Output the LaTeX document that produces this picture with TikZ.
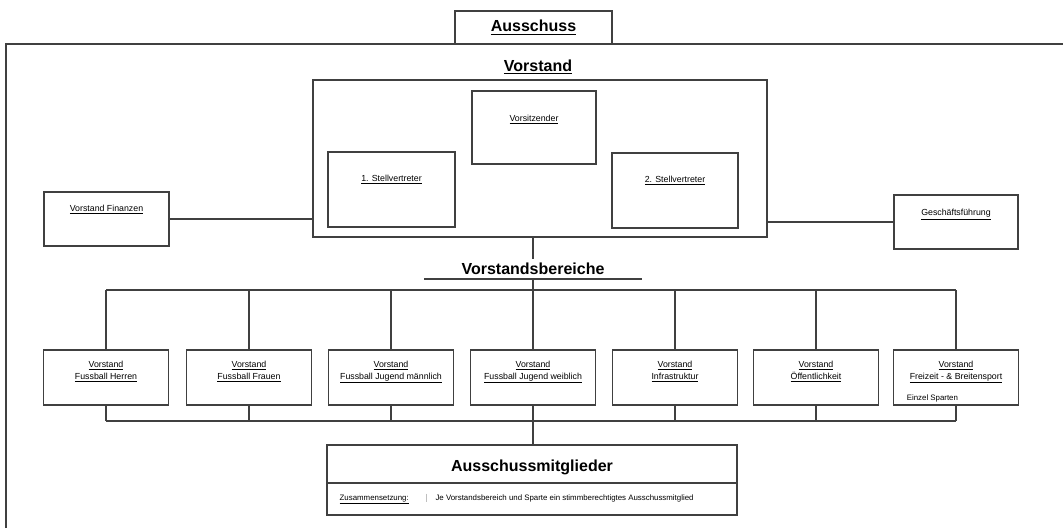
\documentclass[tikz,border=0pt]{standalone}
\usepackage{fontspec}
\setmainfont{Liberation Sans}
\usetikzlibrary{positioning}
\colorlet{ln}{black!75}

\begin{document}
\begin{tikzpicture}[x=0.75pt,y=-0.75pt,line width=1.1pt,
  box/.style={draw=ln,inner sep=0pt},
  rowbox/.style={box,minimum width=93.75pt,minimum height=41.25pt},
  lbl/.style={inner sep=0pt,align=center,font=\fontsize{6.6}{9}\selectfont},
  note/.style={inner sep=0pt,font=\fontsize{5.9}{7}\selectfont},
  head/.style={inner sep=0pt,font=\fontsize{12}{14}\selectfont\bfseries}]
\useasboundingbox (0,0) rectangle (1063,528);
\draw[ln] (6,528) -- (6,44) -- (1063,44);

\node[box,minimum width=117.75pt,minimum height=24.75pt,font=\fontsize{12}{14}\selectfont\bfseries] (aus) at (533.5,27.5) {\underline{Ausschuss}};
\node[head] (vst) at (538,67) {\underline{Vorstand}};
\node[box,minimum width=340.5pt,minimum height=117.75pt] (vs) at (540,158.5) {};

\node[box,minimum width=93pt,minimum height=54.75pt] (vors) at (534,127.5) {};
\node[lbl] (vorst) [below=18pt of vors.north] {\underline{Vorsitzender}};
\node[box,minimum width=95.25pt,minimum height=56.25pt] (st1) at (391.5,189.5) {};
\node[lbl] (st1t) [below=17pt of st1.north] {\underline{1. Stellvertreter}};
\node[box,minimum width=94.5pt,minimum height=56.25pt] (st2) at (675,190.5) {};
\node[lbl] (st2t) [below=17pt of st2.north] {\underline{2. Stellvertreter}};

\node[box,minimum width=93.75pt,minimum height=40.5pt] (fin) at (106.5,219) {};
\node[lbl] (fint) [below=10pt of fin.north] {\underline{Vorstand Finanzen}};
\node[box,minimum width=93pt,minimum height=40.5pt] (gf) at (956,222) {};
\node[lbl] (gft) [below=10.5pt of gf.north] {\underline{Geschäftsführung}};
\draw[ln] (fin.east) -- (fin.east -| vs.west);
\draw[ln] (gf.west) -- (gf.west -| vs.east);

\foreach \x/\t [count=\i] in {106/Fussball Herren,249/Fussball Frauen,391/Fussball Jugend männlich,533/Fussball Jugend weiblich,675/Infrastruktur,816/Öffentlichkeit,956/Freizeit - \& Breitensport}{
  \node[rowbox] (b\i) at (\x,377.5) {};
  \node[lbl] (t\i) [below=8pt of b\i.north] {\underline{Vorstand}\\\underline{\t}};
}
\node[note] (b7x) [above right=2pt and 10pt of b7.south west] {Einzel Sparten};

\node[box,minimum width=307.5pt,minimum height=52.5pt] (am) at (532,480) {};
\coordinate (amd) at (532,483);
\draw[ln] (am.west |- amd) -- (am.east |- amd);
\node[head] (amt) [below=11pt of am.north] {Ausschussmitglieder};
\node[note] (zus) [above right=8pt and 9.5pt of am.south west] {\underline{Zusammensetzung:}};
\node[note] (je) [base right=19pt of zus] {Je Vorstandsbereich und Sparte ein stimmberechtigtes Ausschussmitglied};
\draw[black!25,line width=0.8pt] ([xshift=-6pt]je.north west) -- ([xshift=-6pt]je.south west);

\coordinate (bt) at (533,290);
\coordinate (bb) at (533,421);
\draw[ln] (vs.south -| bt) -- (bt);
\draw[ln] (b1.north |- bt) -- (b7.north |- bt);
\draw[ln] (b1.south |- bb) -- (b7.south |- bb);
\foreach \i in {1,...,7}
  \draw[ln] (b\i.north) -- (b\i.north |- bt) (b\i.south) -- (b\i.south |- bb);
\draw[ln] (bb) -- (am.north -| bb);

\node[head,fill=white,inner ysep=3pt,minimum width=162pt,anchor=south] (vb) at (533,279) {Vorstandsbereiche};
\draw[ln] (vb.south west) -- (vb.south east);
\end{tikzpicture}
\end{document}
